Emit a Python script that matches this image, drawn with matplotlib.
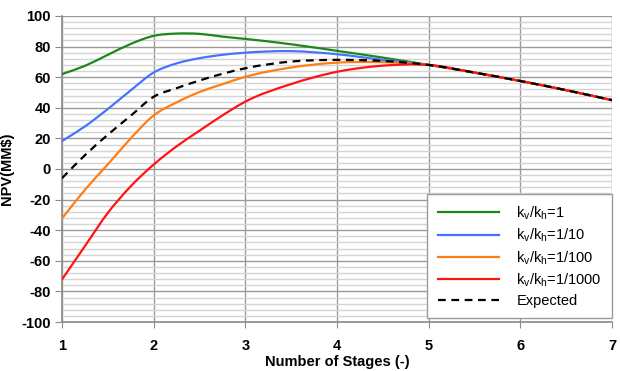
import numpy as np
import matplotlib
matplotlib.use("Agg")
import matplotlib.pyplot as plt
from matplotlib.ticker import MultipleLocator
from matplotlib.path import Path
from matplotlib.patches import PathPatch
from matplotlib.lines import Line2D

plt.rcParams['font.family'] = ['Liberation Sans', 'DejaVu Sans']
plt.rcParams['axes.unicode_minus'] = False

# values
stages = [1, 1.25, 1.5, 1.75, 2, 2.25, 2.5, 2.75, 3, 3.5, 4, 4.5, 5, 5.5, 6, 6.5, 7]
npv_k1 = [62, 67.4, 74.6, 81.7, 87, 88.5, 88.3, 86.5, 85, 81.5, 77.2, 72.8, 68, 63, 57.5, 51.5, 45]
npv_k10 = [18.3, 27.8, 39.2, 51.4, 63, 69, 72.4, 74.6, 76, 77, 75, 71.3, 68, 63, 57.5, 51.5, 45]
npv_k100 = [-32.4, -13.6, 3, 20, 35, 43.5, 50.3, 55.4, 60.2, 66.3, 69.5, 69.8, 68, 63, 57.5, 51.5, 45]
npv_k1000 = [-72.2, -50.4, -28.7, -11.3, 2.9, 14.8, 25, 35, 44, 55.5, 63.5, 67.5, 68, 63, 57.5, 51.5, 45]
npv_expected = [-6, 9, 22.4, 34.8, 47.2, 52.8, 57.8, 62.2, 65.8, 70.2, 71.3, 70.6, 68, 63, 57.5, 51.5, 45]

labels = [
    r"k$_\mathregular{v}$/k$_\mathregular{h}$=1",
    r"k$_\mathregular{v}$/k$_\mathregular{h}$=1/10",
    r"k$_\mathregular{v}$/k$_\mathregular{h}$=1/100",
    r"k$_\mathregular{v}$/k$_\mathregular{h}$=1/1000",
    "Expected",
]
colors = ["#1a881a", "#4473ff", "#ff7d12", "#ff1414"]


def smooth_path(x, y):
    # smoothed line like a spreadsheet chart: Hermite segments drawn as cubic Beziers
    x = np.asarray(x, float)
    y = np.asarray(y, float)
    slope = np.gradient(y, x)
    verts = [(x[0], y[0])]
    codes = [Path.MOVETO]
    for i in range(len(x) - 1):
        dx = x[i + 1] - x[i]
        verts += [(x[i] + dx / 3, y[i] + slope[i] * dx / 3),
                  (x[i + 1] - dx / 3, y[i + 1] - slope[i + 1] * dx / 3),
                  (x[i + 1], y[i + 1])]
        codes += [Path.CURVE4] * 3
    return Path(verts, codes)


fig = plt.figure(figsize=(6.2, 3.71), dpi=100)
ax = fig.add_axes([0.1, 0.132, 0.887, 0.825])

handles = []
for series, color, label in zip([npv_k1, npv_k10, npv_k100, npv_k1000], colors, labels[:4]):
    ax.add_patch(PathPatch(smooth_path(stages, series), fill=False, edgecolor=color,
                           lw=1.6, zorder=3, capstyle="round"))
    handles.append(Line2D([], [], color=color, lw=1.6, label=label))
ax.add_patch(PathPatch(smooth_path(stages, npv_expected), fill=False, edgecolor="black",
                       lw=1.6, ls=(0, (3.5, 2.5)), zorder=4))
handles.append(Line2D([], [], color="black", lw=1.6, ls=(0, (3.5, 2.5)), label=labels[4]))

ax.set_xlim(1, 7)
ax.set_ylim(-100, 100)
ax.xaxis.set_major_locator(MultipleLocator(1))
ax.yaxis.set_major_locator(MultipleLocator(20))
ax.yaxis.set_minor_locator(MultipleLocator(4))

ax.grid(True, which="major", axis="both", color="#9a9a9a", lw=1.0, zorder=1)
ax.grid(True, which="minor", axis="y", color="#d4d4d4", lw=1.0, zorder=0)
ax.set_axisbelow(True)

for side in ["top", "right"]:
    ax.spines[side].set_visible(False)
for side in ["left", "bottom"]:
    ax.spines[side].set_color("#8a8a8a")
    ax.spines[side].set_linewidth(1.2)

ax.tick_params(axis="y", which="major", direction="out", length=5, color="#8a8a8a", pad=3)
ax.tick_params(axis="y", which="minor", length=0)
ax.tick_params(axis="x", which="major", direction="out", length=4, color="#8a8a8a", pad=8)
for t in ax.get_xticklabels() + ax.get_yticklabels():
    t.set_fontweight("bold")
    t.set_fontsize(10.5)

ax.set_xlabel("Number of Stages (-)", fontsize=10.5, fontweight="bold", labelpad=2)
ax.set_ylabel("NPV(MM$)", fontsize=10.5, fontweight="bold")
ax.yaxis.set_label_coords(-0.088, 0.5)

leg = ax.legend(handles=handles, loc="lower right", bbox_to_anchor=(1.0, 0.013),
                borderaxespad=0, fontsize=10.5, fancybox=False, framealpha=1,
                edgecolor="#9a9a9a", handlelength=4.2, handletextpad=1.2,
                labelspacing=0.32, borderpad=0.7)
leg.get_frame().set_linewidth(1.0)

fig.savefig("out.png", dpi=100)
